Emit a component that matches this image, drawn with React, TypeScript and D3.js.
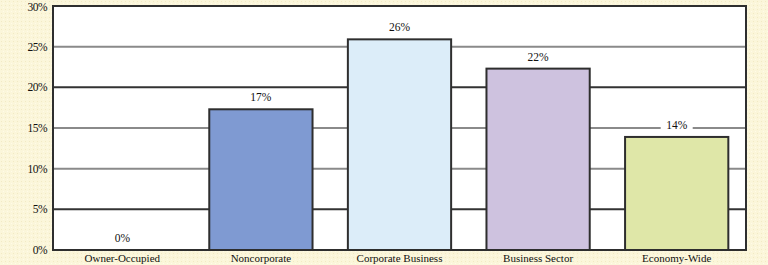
import React from "react";
import * as d3 from "d3";

const categories = ["Owner-Occupied", "Noncorporate", "Corporate Business", "Business Sector", "Economy-Wide"];
const values = [0, 17.3, 25.9, 22.3, 13.9];
const valueLabels = ["0%", "17%", "26%", "22%", "14%"];
const barColors = ["#ffffff", "#7f9ad2", "#dcedf9", "#cec2df", "#dfe7a8"];
const yTicks = [0, 5, 10, 15, 20, 25, 30];
const darkTicks = [5, 20];

const W = 768;
const H = 265;
const left = 53;
const right = 746;
const top = 6;
const bottom = 250;

export default function App() {
  const x = d3.scaleBand<string>().domain(categories).range([left, right]).paddingInner(0.255).paddingOuter(0.1275);
  const y = d3.scaleLinear().domain([0, 30]).range([bottom, top]);
  const font = "'Liberation Serif', 'DejaVu Serif', serif";
  return (
    <svg width={W} height={H} style={{ position: "absolute", left: 0, top: 0 }}>
      <defs>
        <pattern id="dots" width="4" height="4" patternUnits="userSpaceOnUse">
          <rect width="4" height="4" fill="#fbf6da" />
          <rect x="1" y="1" width="1" height="1" fill="#f2eac4" />
          <rect x="3" y="3" width="1" height="1" fill="#fffbe8" />
        </pattern>
      </defs>
      <rect x={0} y={0} width={W} height={H} fill="url(#dots)" />
      <rect x={left} y={top} width={right - left} height={bottom - top} fill="#ffffff" />
      {yTicks.filter((t) => t > 0 && t < 30).map((t) => (
        <line key={t} x1={left} x2={right} y1={y(t)} y2={y(t)}
          stroke={darkTicks.includes(t) ? "#333333" : "#8a8a8a"} strokeWidth={2} />
      ))}
      {categories.map((c, i) => {
        const bx = x(c)!;
        const bw = x.bandwidth();
        const by = y(values[i]);
        return (
          <g key={c}>
            {values[i] > 0 && (
              <rect x={bx} y={by} width={bw} height={bottom - by} fill={barColors[i]} stroke="#2e2e2e" strokeWidth={2} />
            )}
            <rect x={bx + bw / 2 - 16} y={by - 19} width={32} height={14} fill="#ffffff" />
            <text x={bx + bw / 2} y={by - 8} textAnchor="middle" fontFamily={font} fontSize={11.5} fill="#111">
              {valueLabels[i]}
            </text>
            <text x={bx + bw / 2} y={262} textAnchor="middle" fontFamily={font} fontSize={11} fill="#111">
              {c}
            </text>
          </g>
        );
      })}
      <rect x={left} y={top} width={right - left} height={bottom - top} fill="none" stroke="#2e2e2e" strokeWidth={2} />
      {yTicks.map((t) => (
        <text key={t} x={47} y={Math.max(y(t) + 4, 11)} textAnchor="end" fontFamily={font} fontSize={11.5} fill="#111" letterSpacing={-0.5}>
          {t}%
        </text>
      ))}
    </svg>
  );
}
